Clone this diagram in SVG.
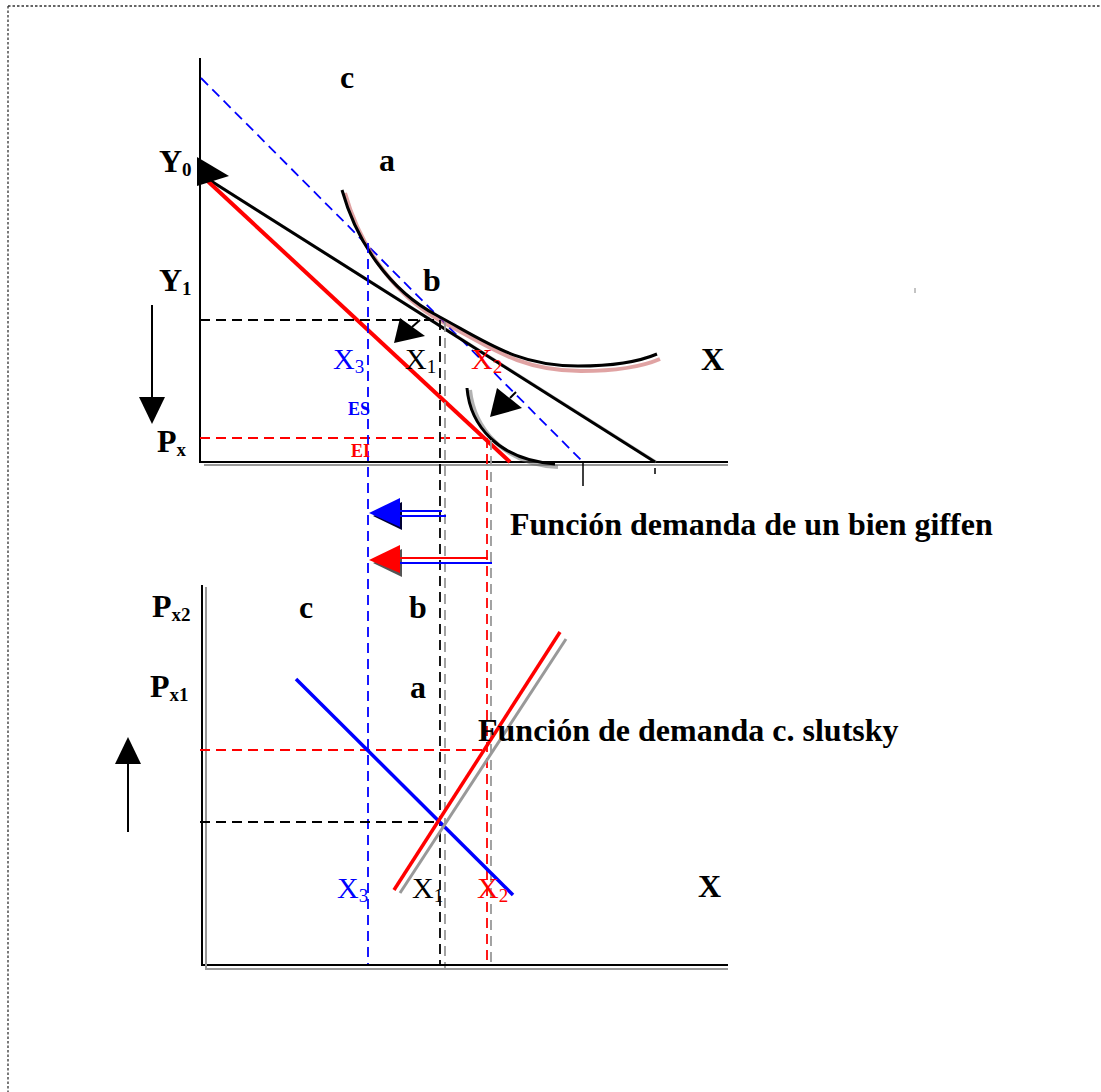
<svg xmlns="http://www.w3.org/2000/svg" width="1101" height="1092" viewBox="0 0 1101 1092">
<style>
text{font-family:"Liberation Serif","Times New Roman",serif}
.b{font-weight:bold;font-size:32px}
.lbl{font-size:30px}
.sb{font-size:19px}
.ax{stroke:#000;stroke-width:2;fill:none}
.sh{stroke:#999;stroke-width:2;fill:none}
.d{stroke-dasharray:10,6;stroke-width:1.8;fill:none}
.g{stroke:#999;stroke-dasharray:10,6;stroke-width:1.8;fill:none}
</style>
<rect width="1101" height="1092" fill="#fff"/>
<g id="border"><path d="M8,6H1101M8,6V1092" stroke="#333" stroke-width="1.3" stroke-dasharray="2.5,2" fill="none"/></g>
<g id="top-axes">
<path class="ax" d="M200,58V462H728"/>
<path class="sh" d="M204,465H728"/>
<path d="M583,462V486M655,468V474" stroke="#000" stroke-width="1.5"/>
<path d="M915,288V293" stroke="#888" stroke-width="1"/>
</g>
<g id="connectors">
<path d="M201,78L583,462" stroke="#00f" class="d"/>
<path d="M203,176L656,462" stroke="#888" stroke-width="3" fill="none" opacity="0.5"/>
<path d="M200,174L655,462" stroke="#000" stroke-width="3" fill="none"/>
<path d="M200,174L510,462" stroke="#f00" stroke-width="4" fill="none"/>
<path d="M344,190C358,240 390,290 440,318C490,345 520,368 580,368C620,368 645,362 659,356" stroke="#c66" stroke-width="4" fill="none" opacity="0.6" transform="translate(1,3)"/>
<path d="M342,190C356,240 388,290 438,316C488,343 518,366 578,366C618,366 643,360 657,354" stroke="#000" stroke-width="3" fill="none"/>
<path d="M468,388C472,425 500,462 556,465" stroke="#666" stroke-width="4" fill="none" opacity="0.5" transform="translate(2,2)"/>
<path d="M467,388C470,425 498,460 555,464" stroke="#000" stroke-width="3" fill="none"/>
<path d="M200,320H440" stroke="#000" class="d"/>
<path d="M200,438H487" stroke="#f00" class="d"/>
<path d="M368,243V965" stroke="#00f" class="d"/>
<path d="M440,320V965" stroke="#000" class="d"/>
<path d="M445,322V968" class="g"/>
<path d="M487,438V965" stroke="#f00" class="d"/>
<path d="M491,440V968" class="g"/>
<polygon points="197,157 229,176 197,186" fill="#000"/>
<polygon points="394,343 400,318 425,336" fill="#000"/>
<path d="M412,327L420,320" stroke="#000" stroke-width="2"/>
<polygon points="490,417 497,388 522,408" fill="#000"/>
<path d="M510,398L516,392" stroke="#000" stroke-width="2"/>
<path d="M152,305V400" stroke="#000" stroke-width="2"/>
<polygon points="139,397 165,397 152,424" fill="#000"/>
<path d="M128,832V760" stroke="#000" stroke-width="2"/>
<polygon points="115,764 141,764 128,737" fill="#000"/>
<polygon points="373,516 402,502 402,530" fill="#003"/>
<polygon points="369,513 400,498 400,527" fill="#00f"/>
<path d="M400,511H442M400,516H446" stroke="#00f" stroke-width="2"/>
<polygon points="373,563 402,549 402,577" fill="#555"/>
<polygon points="369,560 400,545 400,573" fill="#f00"/>
<path d="M400,558H488" stroke="#f00" stroke-width="2"/>
<path d="M400,563H492" stroke="#00f" stroke-width="2"/>
</g>
<g id="bottom-axes">
<path class="ax" d="M202,585V965H728"/>
<path class="sh" d="M206,587V969H728"/>
</g>
<g id="bottom-lines">
<path d="M200,750H487" stroke="#f00" class="d"/>
<path d="M200,822H440" stroke="#000" class="d"/>
<path d="M296,679L513,895" stroke="#00f" stroke-width="3.5" fill="none"/>
<path d="M400,893L566,639" stroke="#999" stroke-width="3" fill="none"/>
<path d="M394,890L560,632" stroke="#f00" stroke-width="3.5" fill="none"/>
</g>
<g id="labels">
<text class="b" x="340" y="88">c</text>
<text class="b" x="379" y="171">a</text>
<text class="b" x="423" y="291">b</text>
<text class="b" x="159" y="172">Y<tspan class="sb" dy="4">0</tspan></text>
<text class="b" x="159" y="291">Y<tspan class="sb" dy="4">1</tspan></text>
<text class="b" x="157" y="452">P<tspan class="sb" dy="4">x</tspan></text>
<text class="lbl" x="333" y="369" fill="#00f">X<tspan class="sb" dy="4">3</tspan></text>
<text class="lbl" x="405" y="369">X<tspan class="sb" dy="4">1</tspan></text>
<text class="lbl" x="471" y="369" fill="#f00">X<tspan class="sb" dy="4">2</tspan></text>
<text class="b" x="701" y="370">X</text>
<text x="348" y="415" fill="#00f" font-weight="bold" font-size="18">ES</text>
<text x="351" y="457" fill="#f00" font-weight="bold" font-size="18">EI</text>
<text class="b" x="510" y="535">Función demanda de un bien giffen</text>
<text class="b" x="152" y="617">P<tspan class="sb" dy="4">x2</tspan></text>
<text class="b" x="150" y="697">P<tspan class="sb" dy="4">x1</tspan></text>
<text class="b" x="299" y="618">c</text>
<text class="b" x="409" y="618">b</text>
<text class="b" x="410" y="698">a</text>
<text class="b" x="478" y="741">Función de demanda c. slutsky</text>
<text class="lbl" x="337" y="898" fill="#00f">X<tspan class="sb" dy="4">3</tspan></text>
<text class="lbl" x="412" y="898">X<tspan class="sb" dy="4">1</tspan></text>
<text class="lbl" x="477" y="898" fill="#f00">X<tspan class="sb" dy="4">2</tspan></text>
<text class="b" x="698" y="897">X</text>
</g>
</svg>
